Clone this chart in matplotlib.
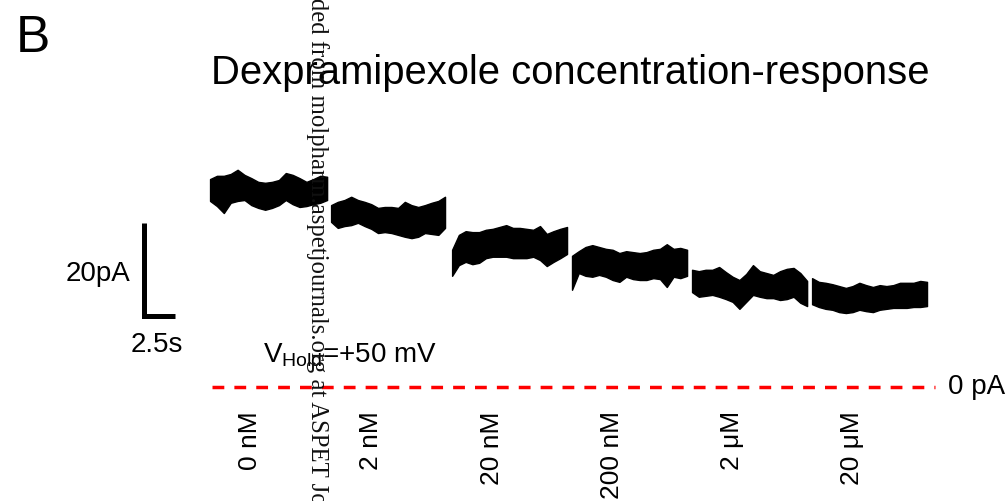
import numpy as np
import matplotlib
matplotlib.use("Agg")
import matplotlib.pyplot as plt

plt.rcParams["font.family"] = ["Liberation Sans", "DejaVu Sans"]
plt.rcParams["mathtext.fontset"] = "custom"
plt.rcParams["mathtext.rm"] = "Liberation Sans"

# concentrations applied, one trace segment each
CONC = ["0 nM", "2 nM", "20 nM", "200 nM", "2 \u03bcM", "20 \u03bcM"]
# segment start / end times (s)
SEG_START = [0.0, 9.76, 19.52, 29.19, 38.87, 48.55]
SEG_END = [9.44, 18.95, 28.79, 38.47, 48.15, 57.82]

# upper / lower envelope of the noisy current trace (pA), 18 samples per segment
TOP = [
    [44.7, 45.4, 45.4, 45.8, 46.7, 45.6, 44.9, 44.1, 43.9, 44.1, 44.5, 46.0, 45.6, 44.9, 44.1, 44.7, 45.4, 45.2],
    [39.1, 39.8, 40.2, 40.9, 40.2, 39.8, 39.3, 38.5, 38.7, 38.7, 38.5, 39.8, 39.1, 38.7, 39.1, 39.6, 40.0, 40.9],
    [29.5, 32.7, 33.5, 33.3, 33.3, 33.8, 34.0, 34.4, 34.8, 34.2, 34.2, 34.0, 33.8, 34.6, 32.9, 33.5, 34.0, 34.4],
    [28.2, 29.2, 30.1, 30.5, 30.1, 29.7, 29.5, 28.8, 29.2, 29.0, 28.8, 29.0, 29.5, 29.7, 30.7, 29.7, 29.9, 29.5],
    [25.2, 24.9, 25.2, 25.2, 25.8, 24.7, 23.7, 23.0, 24.3, 26.2, 24.9, 24.5, 24.1, 24.9, 25.4, 25.6, 24.5, 22.8],
    [23.4, 22.6, 22.4, 22.1, 21.7, 21.3, 21.7, 22.4, 21.9, 21.5, 21.9, 21.7, 21.9, 22.4, 22.4, 22.4, 22.8, 22.6],
]
BOTTOM = [
    [40.0, 38.9, 37.4, 39.6, 40.0, 40.2, 39.1, 38.5, 38.1, 38.5, 39.1, 40.2, 39.3, 38.7, 38.9, 39.3, 39.6, 40.2],
    [35.5, 34.2, 34.6, 34.8, 35.3, 34.6, 34.0, 33.1, 33.3, 33.1, 32.7, 32.3, 32.0, 32.3, 33.1, 32.9, 32.7, 34.2],
    [23.9, 26.2, 26.9, 26.4, 26.7, 27.7, 28.0, 28.0, 28.0, 27.7, 27.7, 27.7, 28.0, 27.3, 26.0, 26.9, 27.7, 28.6],
    [20.9, 24.5, 23.9, 23.7, 24.1, 23.7, 23.0, 22.6, 23.7, 23.2, 23.0, 23.0, 23.4, 23.2, 21.5, 23.7, 23.4, 23.9],
    [20.4, 19.4, 19.6, 19.8, 19.4, 18.9, 18.3, 16.8, 18.3, 19.8, 19.4, 19.1, 19.1, 18.7, 18.9, 19.4, 18.1, 17.4],
    [17.8, 17.2, 16.8, 16.6, 16.1, 15.9, 16.1, 16.6, 16.3, 16.1, 16.6, 16.8, 17.0, 17.0, 17.0, 17.2, 17.2, 17.4],
]

SCALE_PA, SCALE_S = 20, 2.5
WATERMARK = "Downloaded from molpharm.aspetjournals.org at ASPET Journals on April 19, 2024"

fig = plt.figure(figsize=(10.07, 5.01), dpi=100)
ax = fig.add_axes([0, 0, 1, 1])
ax.set_xlim(-16.94, 64.27)
ax.set_ylim(-24.51, 83.2)
ax.axis("off")

for t0, t1, top, bot in zip(SEG_START, SEG_END, TOP, BOTTOM):
    t = np.linspace(t0, t1, len(top))
    ax.fill_between(t, bot, top, color="black", lw=1.0, edgecolor="black")

# zero-current reference
ax.plot([0.16, 58.5], [0, 0], color="#ff0000", lw=2.5, dashes=(3.4, 2.9))
ax.text(59.5, 0, "0 pA", fontsize=20, ha="left", va="center")

# scale bar
x0, yb = -5.3, 15.3
ax.plot([x0, x0, x0 + SCALE_S], [yb + SCALE_PA, yb, yb], color="black", lw=3.6,
        solid_joinstyle="miter", solid_capstyle="butt")
ax.text(-6.4, 22.8, f"{SCALE_PA}pA", fontsize=20, ha="right", va="baseline")
ax.text(-4.27, 7.5, f"{SCALE_S}s", fontsize=20, ha="center", va="baseline")

ax.text(4.27, 5.4, r"V$_{\mathrm{Hold}}$=+50 mV", fontsize=20, ha="left", va="baseline")

for t0, lab in zip(SEG_START, CONC):
    ax.text(t0 + 3.2, -5.2, lab, fontsize=19, rotation=90, ha="center", va="top")

ax.text(0.08, 65.2, "Dexpramipexole concentration-response", fontsize=28.8,
        ha="left", va="baseline")
ax.text(-15.7, 72.0, "B", fontsize=37, ha="left", va="baseline")

fig.text(0.315, 1.186, WATERMARK, rotation=-90, ha="center", va="top",
         fontsize=17.8, family="Liberation Serif", color="#111111")

fig.savefig("out.png", dpi=100)
